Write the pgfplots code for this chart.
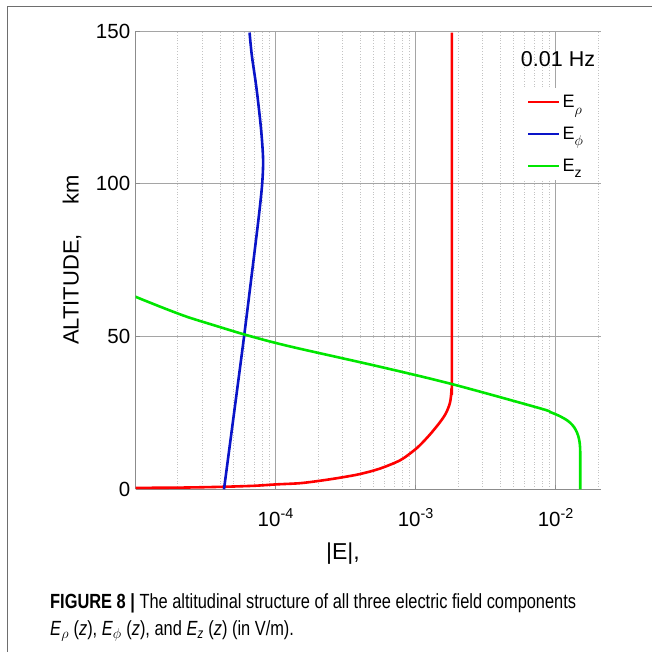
\documentclass[border=0pt]{standalone}
\usepackage{pgfplots}
\pgfplotsset{compat=1.18}
\usepackage{fontspec}
\setmainfont{Liberation Sans}
\newfontfamily\capfont[FakeStretch=0.80]{Liberation Sans}
\definecolor{cred}{RGB}{255,0,0}
\definecolor{cblue}{RGB}{10,20,200}
\definecolor{cgreen}{RGB}{0,230,0}
\definecolor{gridmaj}{RGB}{165,165,165}
\definecolor{gridmin}{RGB}{195,195,195}
\definecolor{axcol}{RGB}{140,140,140}
\definecolor{framecol}{RGB}{110,110,110}
\newcommand\lsub[1]{\raisebox{-0.7ex}{\fontsize{14}{14}\selectfont #1}}
\begin{document}
\begin{tikzpicture}
\useasboundingbox (0pt,0pt) rectangle (651pt,-652pt);
\draw[framecol, line width=1.3pt] (7.5pt,-653pt) -- (7.5pt,-6.5pt) -- (652pt,-6.5pt);
\begin{axis}[
  at={(135.7pt,-489.3pt)}, anchor=south west,
  scale only axis, width=465.3pt, height=458.3pt,
  xmode=log, xmin=1e-5, xmax=0.021, ymin=0, ymax=150,
  axis x line*=bottom, axis y line*=left,
  axis line style={axcol, line width=1pt, -},
  xtick={1e-4,1e-3,1e-2},
  xticklabels={10\textsuperscript{-4},10\textsuperscript{-3},10\textsuperscript{-2}},
  minor xtick={2e-5,3e-5,4e-5,5e-5,6e-5,7e-5,8e-5,9e-5,2e-4,3e-4,4e-4,5e-4,6e-4,7e-4,8e-4,9e-4,2e-3,3e-3,4e-3,5e-3,6e-3,7e-3,8e-3,9e-3,2e-2},
  ytick={0,50,100,150},
  /pgf/number format/assume math mode=true,
  tick align=inside,
  major tick length=4pt, minor tick length=0pt,
  tick style={axcol, line width=0.8pt},
  xmajorgrids, xminorgrids, ymajorgrids,
  major grid style={gridmaj, line width=0.9pt},
  minor grid style={gridmin, line width=0.7pt, dotted},
  ticklabel style={font=\fontsize{20.5}{24}\selectfont},
  xticklabel style={anchor=base, yshift=-36.7pt},
  yticklabel style={xshift=-2pt},
  legend style={at={(axis description cs:0.8303,0.876)}, anchor=north west,
    draw=none, fill=white, font=\fontsize{18}{20}\selectfont,
    row sep=14pt, inner xsep=5pt, inner ysep=5pt,
    /tikz/every even column/.append style={column sep=0pt}},
  legend cell align=left,
  legend image code/.code={\draw[#1, line width=2.4pt] (0pt,0pt) -- (31pt,0pt);},
]
\addplot[cred, line width=2.6pt, smooth, tension=0.5, line join=round] coordinates {
(8e-6,0.45) (2e-5,0.55) (4e-5,0.8) (7e-5,1.15) (1e-4,1.6) (1.49e-4,2.0) (2.07e-4,2.8)
(2.88e-4,3.8) (4.0e-4,5.0) (5.56e-4,6.8) (7.73e-4,9.5) (9.57e-4,12.5) (1.074e-3,14.5)
(1.265e-3,18) (1.49e-3,22) (1.645e-3,25) (1.757e-3,28.5) (1.80e-3,33) (1.81e-3,40)
(1.81e-3,149.5)};
\addplot[cblue, line width=2.6pt, smooth, tension=0.5] coordinates {
(4.27e-5,0) (5.04e-5,25) (5.94e-5,50) (6.94e-5,75) (7.6e-5,90) (8.0e-5,100)
(8.12e-5,108) (7.85e-5,118) (7.3e-5,131) (6.75e-5,142) (6.5e-5,149.5)};
\addplot[cgreen, line width=2.6pt, smooth, tension=0.5, line join=round] coordinates {
(7.7e-6,65.3) (1e-5,63) (1.49e-5,59.8) (2.31e-5,56.5) (3.68e-5,53.6)
(5.94e-5,50.7) (9.42e-5,48.2) (1.49e-4,46.0) (5.56e-4,40.1) (1.79e-3,34.5) (7.72e-3,26.5)
(9.1e-3,25.3) (1.038e-2,24.2) (1.164e-2,23.0) (1.264e-2,21.8) (1.351e-2,20.3)
(1.418e-2,18.5) (1.466e-2,16.3) (1.49e-2,13.5) (1.493e-2,8) (1.493e-2,0)};
\legend{{E\lsub{$\rho$}},{E\lsub{$\phi$}},{E\lsub{z}}}
\end{axis}
\node[font=\fontsize{21.5}{24}\selectfont, anchor=base] at (558pt,-66.5pt) {0.01 Hz};
\node[rotate=90, anchor=base, font=\fontsize{22}{26}\selectfont] at (78.5pt,-260pt) {ALTITUDE,\hspace{1.35em}km};
\node[anchor=base, font=\fontsize{23}{26}\selectfont] at (343pt,-559pt) {|E|,};
\node[anchor=base west, inner sep=0pt, font=\capfont\fontsize{20.5}{24}\selectfont] at (50pt,-608pt) {\textbf{FIGURE 8 |} The altitudinal structure of all three electric field components};
\node[anchor=base west, inner sep=0pt, font=\capfont\fontsize{20.5}{24}\selectfont] at (50pt,-635pt) {\textit{E}\textsubscript{$\rho$} (\textit{z}), \textit{E}\textsubscript{$\phi$} (\textit{z}), and \textit{E}\textsubscript{\textit{z}} (\textit{z}) (in V/m).};
\end{tikzpicture}
\end{document}
